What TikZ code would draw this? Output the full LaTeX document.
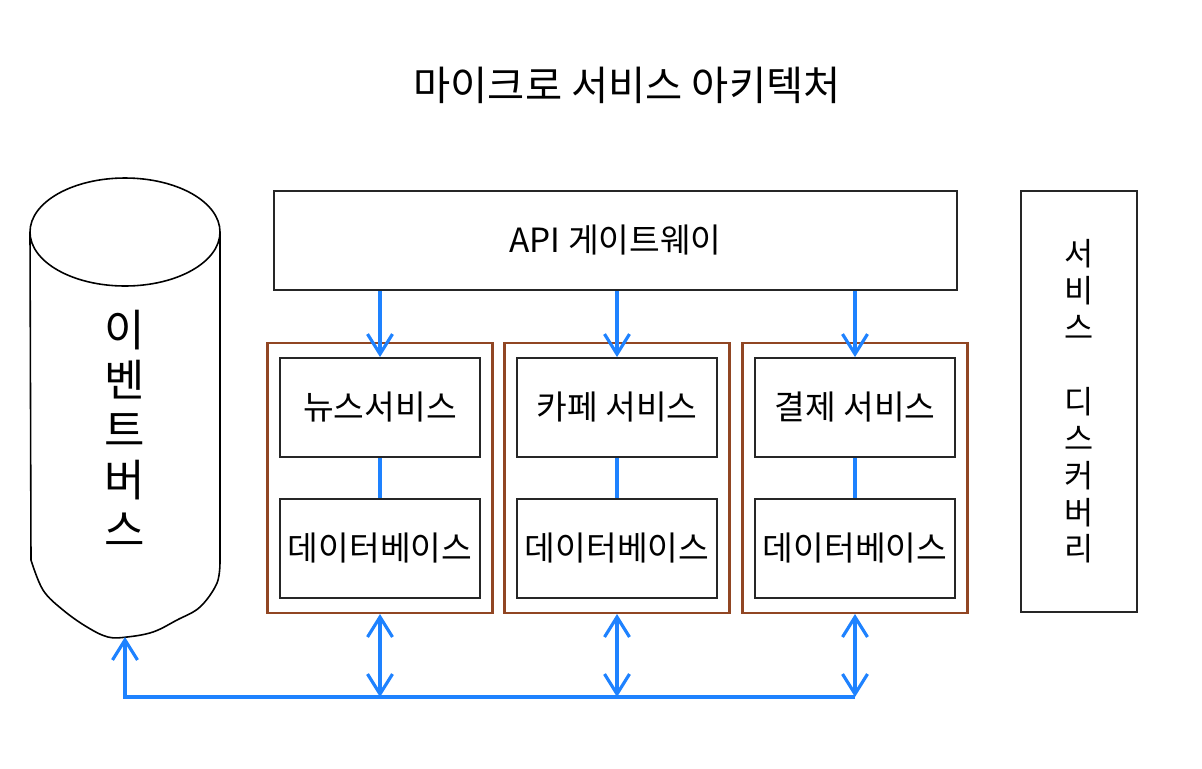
\documentclass[tikz,border=0pt]{standalone}
\usepackage{fontspec}
\setmainfont{Noto Sans CJK KR}
\usetikzlibrary{arrows.meta}
\definecolor{flowblue}{RGB}{30,130,255}
\definecolor{framebrown}{RGB}{145,70,35}

\begin{document}
\begin{tikzpicture}[x=0.02cm, y=-0.02cm,
  box/.style={draw=black!85, line width=1.1pt, minimum width=4cm,
    minimum height=1.98cm, inner sep=0pt, font=\fontsize{19}{22}\selectfont},
  frame/.style={draw=framebrown, line width=1.2pt, minimum width=4.5cm,
    minimum height=5.4cm, inner sep=0pt},
  link/.style={draw=flowblue, line width=1.8pt},
  flow/.style={link, -{Straight Barb[length=4mm,width=5mm]}},
  dflow/.style={link, {Straight Barb[length=4mm,width=5mm]}-{Straight Barb[length=4mm,width=5mm]}}]

\fill[white] (0,0) rectangle (1202,768);

% Title
\node[font=\fontsize{23}{28}\selectfont] (title) at (627,85) {마이크로 서비스 아키텍처};

% --- Event bus (cylinder) ---
\draw[line width=0.9pt] (125,232) ellipse [x radius=95, y radius=54];
\draw[line width=0.9pt] (220,232) -- plot[smooth, tension=0.6] coordinates {(220,560)
    (217,583) (200,607) (177,620) (153,632) (127,637) (108,637) (87,627)
    (63,610) (43,590) (31,560)} -- (30,232);
\node[font=\fontsize{25}{28.5}\selectfont, align=center] (bus) at (125,428)
    {이\\벤\\트\\버\\스};
\coordinate (busbot) at (125,637);

% --- API gateway ---
\node[box, minimum width=13.66cm] (api) at (615.5,240.5) {API 게이트웨이};

% --- Service discovery ---
\node[box, minimum width=2.32cm, minimum height=8.42cm, align=center,
    font=\fontsize{18}{21}\selectfont] (disc) at (1079,401.5)
    {서\\비\\스\\[21pt]디\\스\\커\\버\\리};

% --- News service ---
\begin{scope}[shift={(380,0)}]
  \node[frame] (newsframe) at (0,478) {};
  \node[box] (news) at (0,407.5) {뉴스서비스};
  \node[box] (newsdb) at (0,548.5) {데이터베이스};
  \draw[link] (news) -- (newsdb);
  \draw[flow] (news.north |- api.south) -- (news.north);
\end{scope}

% --- Cafe service ---
\begin{scope}[shift={(617,0)}]
  \node[frame] (cafeframe) at (0,478) {};
  \node[box] (cafe) at (0,407.5) {카페 서비스};
  \node[box] (cafedb) at (0,548.5) {데이터베이스};
  \draw[link] (cafe) -- (cafedb);
  \draw[flow] (cafe.north |- api.south) -- (cafe.north);
\end{scope}

% --- Payment service ---
\begin{scope}[shift={(855,0)}]
  \node[frame] (payframe) at (0,478) {};
  \node[box] (pay) at (0,407.5) {결제 서비스};
  \node[box] (paydb) at (0,548.5) {데이터베이스};
  \draw[link] (pay) -- (paydb);
  \draw[flow] (pay.north |- api.south) -- (pay.north);
\end{scope}

% Bus line
\coordinate (busL) at (125,697);
\draw[flow] (payframe.south |- busL) -- (busL) -- (busbot);
\foreach \f in {newsframe,cafeframe,payframe}
  \draw[dflow] (\f.south) -- (\f.south |- busL);
\end{tikzpicture}
\end{document}
